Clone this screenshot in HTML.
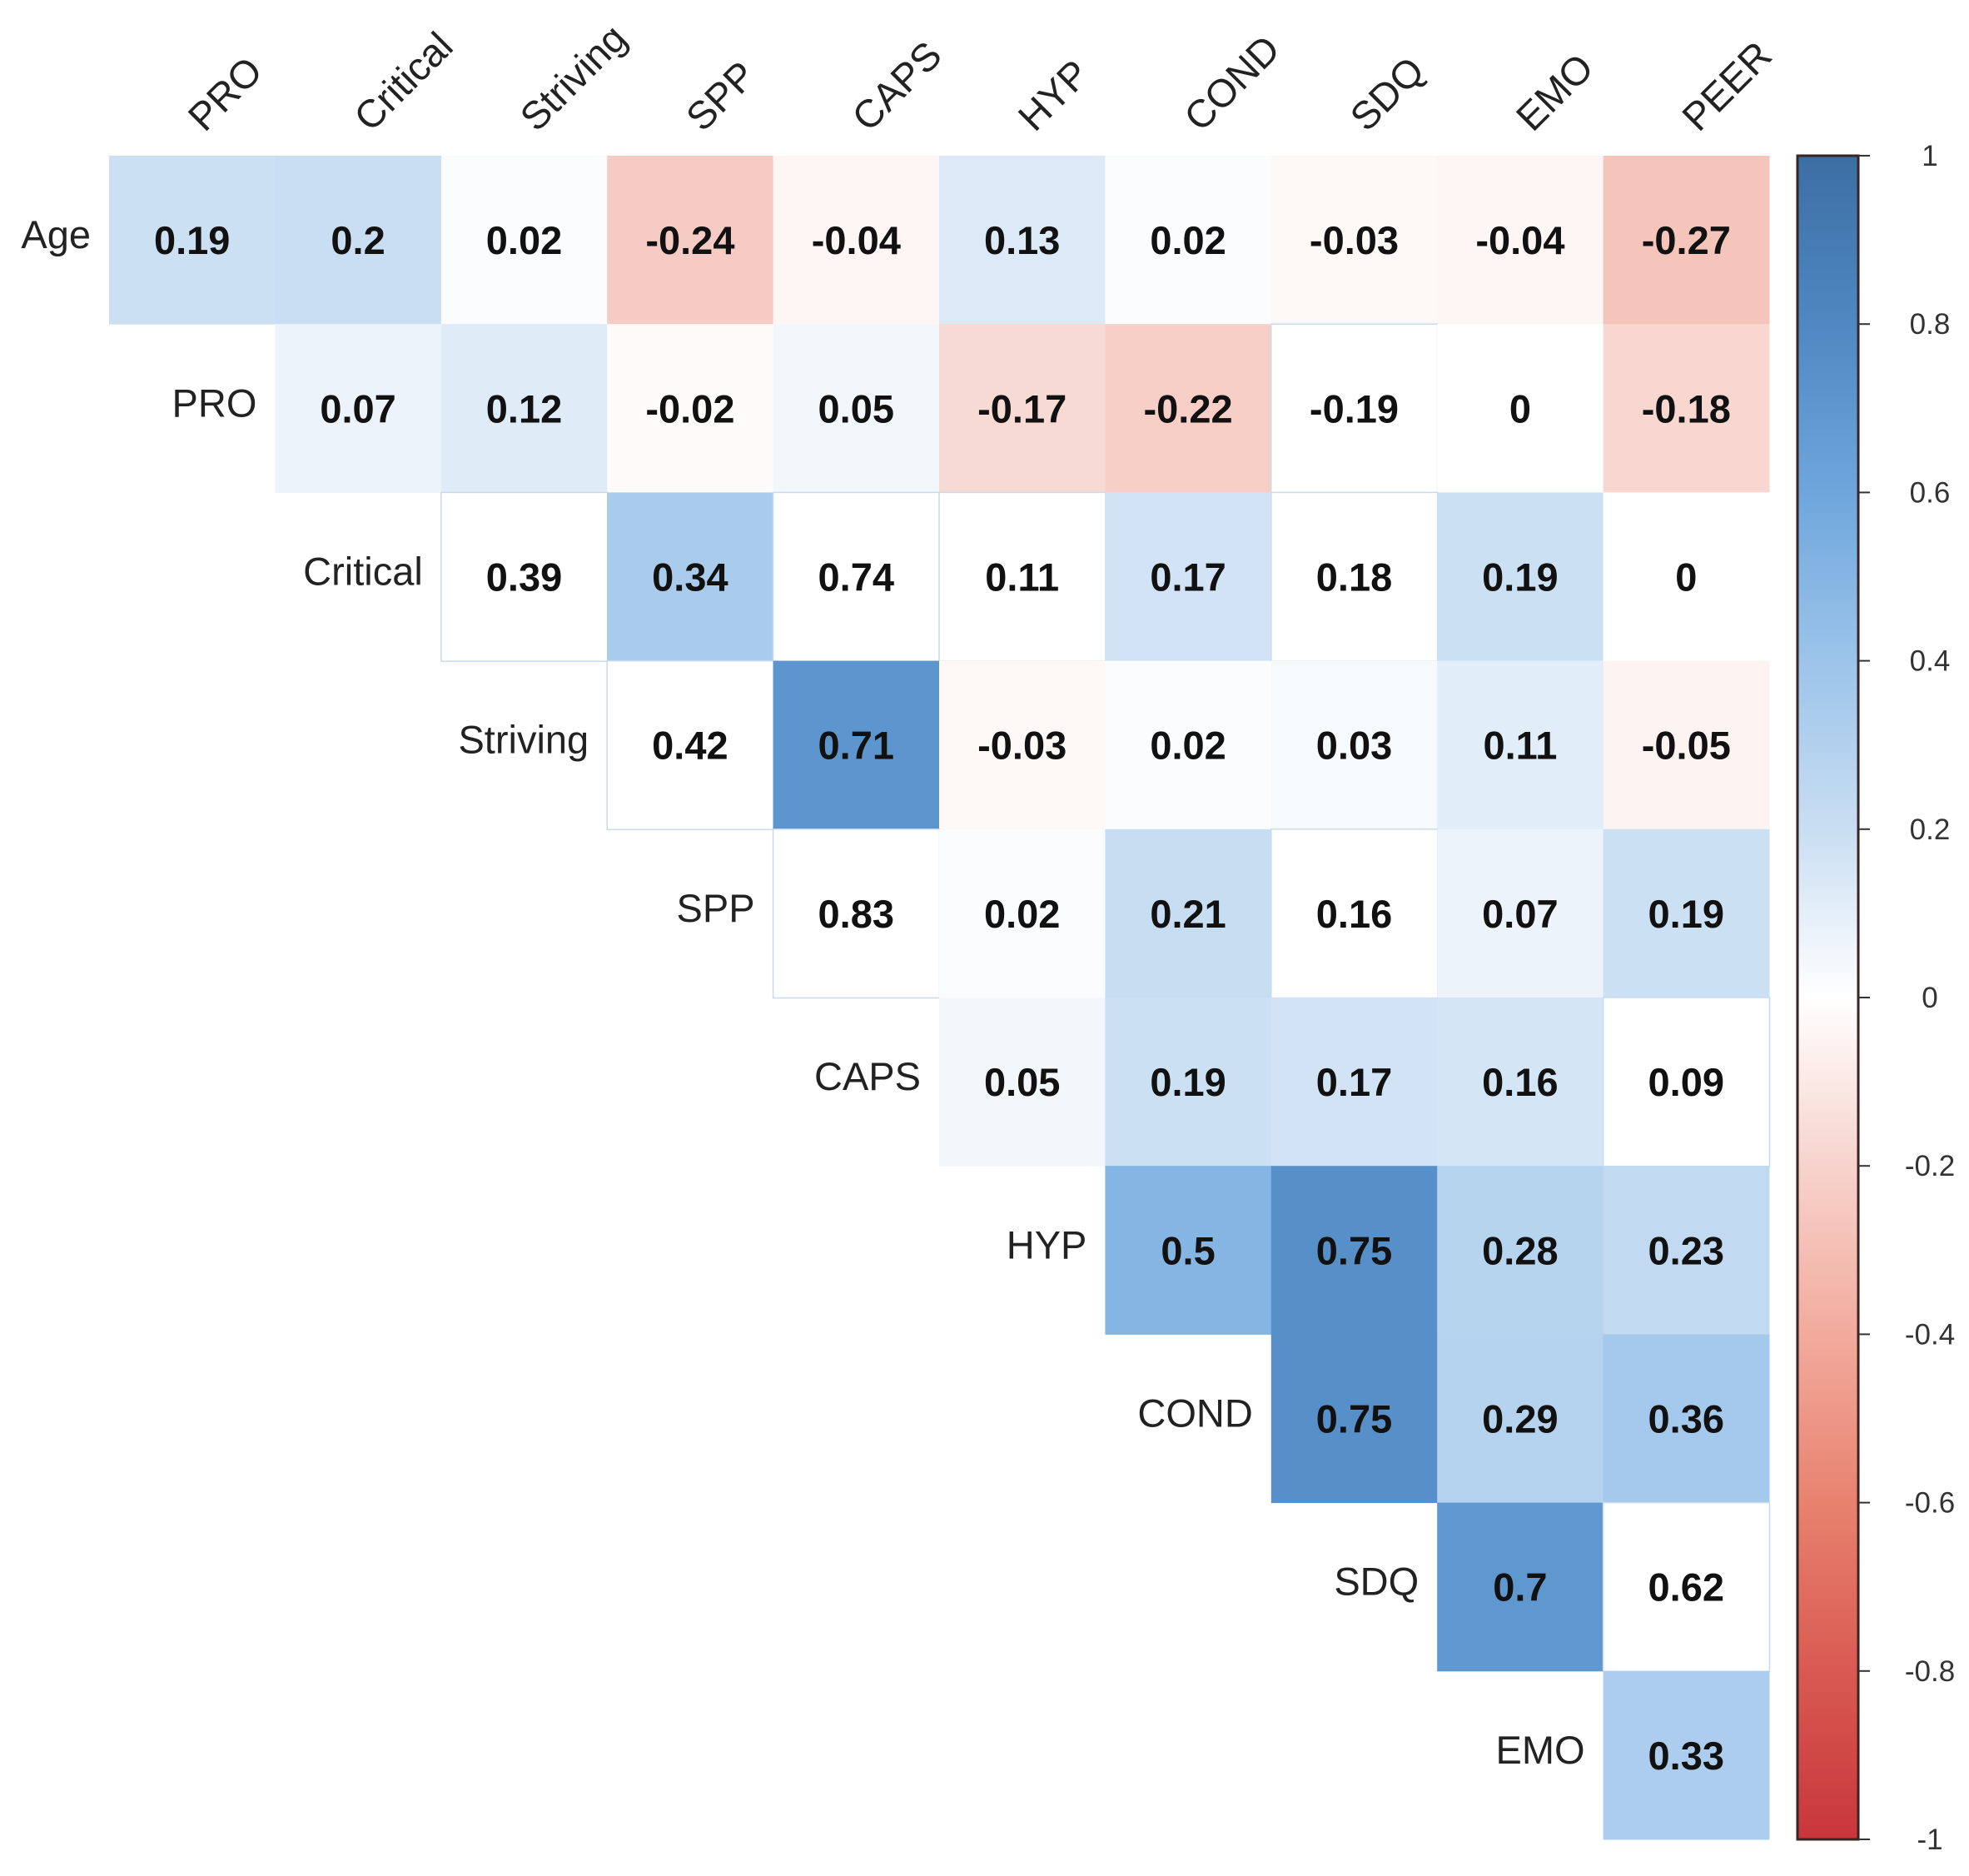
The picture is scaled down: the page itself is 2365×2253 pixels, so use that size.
<!DOCTYPE html>
<html><head><meta charset="utf-8">
<style>html,body{margin:0;padding:0;background:#fff;}svg{display:block;}</style>
</head><body>
<svg id="chart" width="2365" height="2253" viewBox="0 0 2365 2253" xmlns="http://www.w3.org/2000/svg" font-family="Liberation Sans, Arial, sans-serif">
<defs>
<linearGradient id="cbgrad" x1="0" y1="0" x2="0" y2="1">
<stop offset="0" stop-color="#3c6ea3"/><stop offset="0.1" stop-color="#4f88c2"/><stop offset="0.2" stop-color="#6ea6dc"/><stop offset="0.3" stop-color="#9cc4ea"/><stop offset="0.4" stop-color="#c9def2"/><stop offset="0.5" stop-color="#ffffff"/><stop offset="0.6" stop-color="#f7d3cc"/><stop offset="0.7" stop-color="#f2ab9d"/><stop offset="0.8" stop-color="#e8826f"/><stop offset="0.9" stop-color="#d95a52"/><stop offset="1" stop-color="#c8363b"/>
</linearGradient>
</defs>
<g id="cells"></g>
<g id="labels"></g>
<g id="colorbar"></g>
</svg>
<script>
const rowLabels = ["Age","PRO","Critical","Striving","SPP","CAPS","HYP","COND","SDQ","EMO"];
const colLabels = ["PRO","Critical","Striving","SPP","CAPS","HYP","COND","SDQ","EMO","PEER"];
const values = [
 [0.19,0.2,0.02,-0.24,-0.04,0.13,0.02,-0.03,-0.04,-0.27],
 [0.07,0.12,-0.02,0.05,-0.17,-0.22,-0.19,0,-0.18],
 [0.39,0.34,0.74,0.11,0.17,0.18,0.19,0],
 [0.42,0.71,-0.03,0.02,0.03,0.11,-0.05],
 [0.83,0.02,0.21,0.16,0.07,0.19],
 [0.05,0.19,0.17,0.16,0.09],
 [0.5,0.75,0.28,0.23],
 [0.75,0.29,0.36],
 [0.7,0.62],
 [0.33]
];
const colored = [
 [1,1,1,1,1,1,1,1,1,1],
 [1,1,1,1,1,1,0,1,1],
 [0,1,0,0,1,0,1,1],
 [0,1,1,1,1,1,1],
 [0,1,1,0,1,1],
 [1,1,1,1,0],
 [1,1,1,1],
 [1,1,1],
 [1,0],
 [1]
];
const cbTicks = [1,0.8,0.6,0.4,0.2,0,-0.2,-0.4,-0.6,-0.8,-1];

const NS="http://www.w3.org/2000/svg";
const X0=131, X1=2125, Y0=187, Y1=2209;
const cw=(X1-X0)/colLabels.length, rh=(Y1-Y0)/rowLabels.length;
const xCol=j=>X0+j*cw, yRow=i=>Y0+i*rh;
const stops=[[-1,[200,54,59]],[-0.6,[232,130,111]],[-0.4,[242,171,157]],[-0.2,[247,211,204]],[0,[255,255,255]],[0.2,[201,222,242]],[0.4,[156,196,234]],[0.6,[110,166,220]],[0.8,[79,136,194]],[1,[60,110,163]]];
function color(v){
 for(let k=0;k<stops.length-1;k++){const a=stops[k],b=stops[k+1];
  if(v>=a[0]&&v<=b[0]){const t=(v-a[0])/(b[0]-a[0]);
   const c=a[1].map((x,i)=>Math.round(x+(b[1][i]-x)*t));return `rgb(${c})`;}}
 return "#fff";
}
function mk(tag,attrs,parent){const e=document.createElementNS(NS,tag);for(const k in attrs)e.setAttribute(k,attrs[k]);parent.appendChild(e);return e;}
const gc=document.getElementById('cells'), gl=document.getElementById('labels'), gb=document.getElementById('colorbar');

rowLabels.forEach((r,i)=>{
 values[i].forEach((v,k)=>{
  const j=i+k;
  const rect=mk('rect',{x:xCol(j),y:yRow(i),width:cw+0.5,height:rh+0.5,fill:colored[i][k]?color(v):'#ffffff'},gc);
  
  
  if(!colored[i][k]){rect.setAttribute('stroke','#c9daee');rect.setAttribute('stroke-width','1.5');}
  const t=mk('text',{x:xCol(j)+cw/2,y:yRow(i)+rh/2+17,'text-anchor':'middle','font-size':47,'font-weight':'bold',fill:'#111'},gc);
  t.textContent=String(v);
  
  
 });
 const lt=mk('text',{x:xCol(i)-22,y:yRow(i)+rh/2+10,'text-anchor':'end','font-size':47,fill:'#222'},gl);
 lt.textContent=r;
 
 
});
colLabels.forEach((c,j)=>{
 const x=xCol(j)+cw/2+15, y=160;
 const t=mk('text',{x:x,y:y,'font-size':47,fill:'#222',transform:`rotate(-45 ${x} ${y})`},gl);
 t.textContent=c;
 
 
});
// colorbar
const CB0=2159, CB1=2232;
const yCb=v=>Y0+(1-v)/2*(Y1-Y0);
const bar=mk('rect',{x:CB0,y:Y0,width:CB1-CB0,height:Y1-Y0,fill:'url(#cbgrad)',stroke:'#3a2424','stroke-width':3},gb);


cbTicks.forEach(v=>{
 const tk=mk('line',{x1:CB1,x2:CB1+14,y1:yCb(v),y2:yCb(v),stroke:'#333','stroke-width':2},gb);
 
 
 const tl=mk('text',{x:2318,y:yCb(v)+12,'text-anchor':'middle','font-size':35,fill:'#333'},gb);
 tl.textContent=String(v);
 
 
});
</script>
</body></html>
